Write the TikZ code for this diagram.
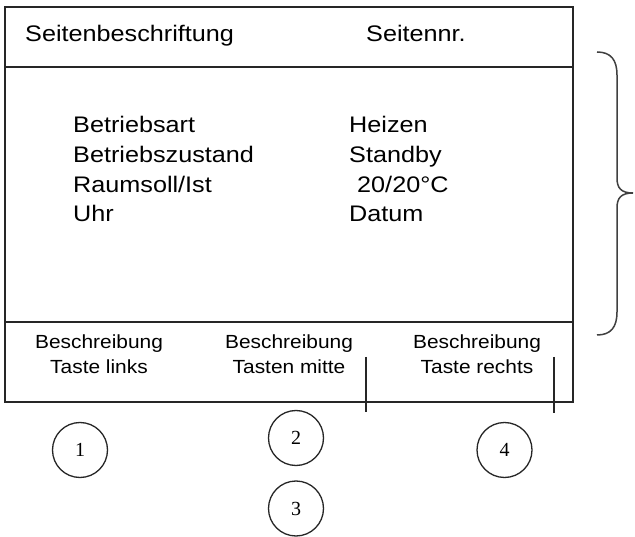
\documentclass[tikz,border=0pt]{standalone}
\usepackage{fontspec}
\setmainfont{Liberation Sans}
\newfontfamily\numfont{Liberation Serif}
\tikzset{
    disptext/.style={anchor=base west, inner sep=0pt, font=\fontsize{22.5}{27}\selectfont, xscale=1.12},
    keytext/.style={anchor=base, inner sep=0pt, font=\fontsize{19}{23}\selectfont, xscale=1.1},
    keynum/.style={draw=black!85, circle, line width=1.3pt, minimum size=55pt, inner sep=0pt, font=\numfont\fontsize{20}{20}\selectfont},
    screenline/.style={draw=black!85, line width=2pt},
    tickline/.style={draw=black!85, line width=1.5pt}
}
\begin{document}
\begin{tikzpicture}[x=1pt, y=-1pt]
    \useasboundingbox[fill=white] (0,0) rectangle (635,537);

    % Display frame
    \draw[screenline] (5,7.5) rectangle (573,402.5);
    \draw[screenline] (5,67) -- (573,67);
    \draw[screenline] (5,322) -- (573,322);

    % Header
    \node[disptext] (pagetitle) at (25,42) {Seitenbeschriftung};
    \node[disptext] (pagenum) at (366,42) {Seitennr.};

    % Display content
    \node[disptext] (modename) at (73,133) {Betriebsart};
    \node[disptext] (statename) at (73,163) {Betriebszustand};
    \node[disptext] (tempname) at (73,193) {Raumsoll/Ist};
    \node[disptext] (clockname) at (73,222) {Uhr};
    \node[disptext] (modeval) at (349,133) {Heizen};
    \node[disptext] (stateval) at (349,163) {Standby};
    \node[disptext] (tempval) at (357,193) {20/20°C};
    \node[disptext] (clockval) at (349,222) {Datum};

    % Key descriptions
    \node[keytext] (descleft) at (99,349) {Beschreibung};
    \node[keytext] (keyleft) at (99,374) {Taste links};
    \node[keytext] (descmid) at (289,349) {Beschreibung};
    \node[keytext] (keymid) at (289,374) {Tasten mitte};
    \node[keytext] (descright) at (477,349) {Beschreibung};
    \node[keytext] (keyright) at (477,374) {Taste rechts};

    % Ticks
    \draw[tickline] (366,357) -- (366,412);
    \draw[tickline] (554,357) -- (554,413);

    % Keys
    \node[keynum] (key1) at (80,450) {1};
    \node[keynum] (key2) at (296,438) {2};
    \node[keynum] (key3) at (296,508.5) {3};
    \node[keynum] (key4) at (504.5,450) {4};

    % Brace
    \draw[draw=black!75, line width=1.5pt] (597,52) .. controls (611,52) and (617,60) .. (617,75)
        -- (617,178) .. controls (617,188) and (621,193) .. (633,193)
        .. controls (621,193) and (617,198) .. (617,208)
        -- (617,312) .. controls (617,327) and (611,335) .. (597,335);
\end{tikzpicture}
\end{document}
